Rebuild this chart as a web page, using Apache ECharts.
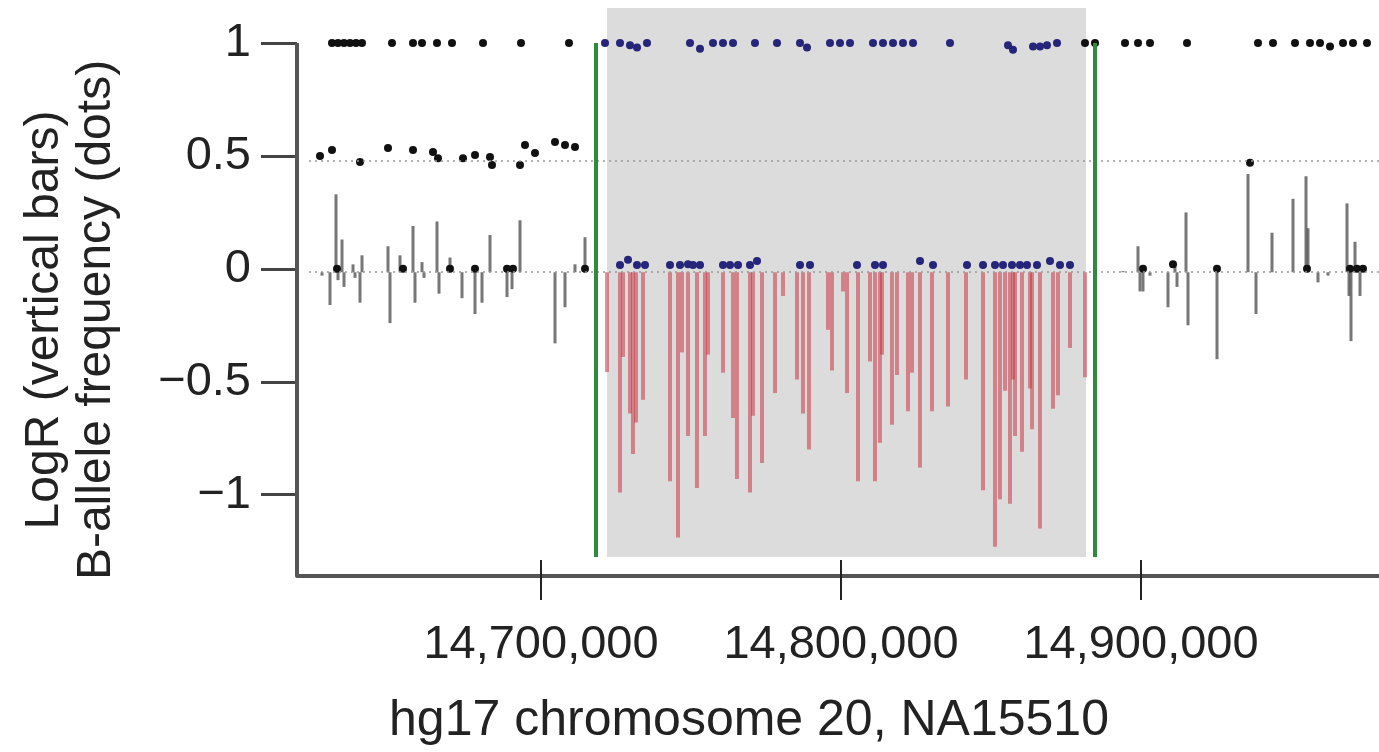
<!DOCTYPE html>
<html>
<head>
<meta charset="utf-8">
<script src="https://cdn.jsdelivr.net/npm/echarts@6/dist/echarts.min.js"></script>
<style>html,body{margin:0;padding:0;background:#fff;}#c{width:1379px;height:752px;}</style>
</head>
<body>
<div id="c"></div>
<script>
// ---- data (positions in bp, hg17 chr20) ----
const xTicks = [14700000, 14800000, 14900000];
const yTicks = [1, 0.5, 0, -0.5, -1];
const regionStart = 14722000, regionEnd = 14881667;      // shaded deletion
const breakLeft = 14718333, breakRight = 14884667;        // green boundaries
const hetLine = 0.48, baseLine = -0.015;

// LogR outside deletion (grey bars)
const greyBarPos = [14627000,14629667,14631667,14632333,14633667,14634333,14637333,14638000,14639667,14640333,
  14649000,14649667,14653000,14657333,14658000,14660333,14661000,14665333,14666000,14669667,14673667,14678000,
  14680333,14683000,14688667,14690333,14693000,14704667,14708000,14711333,14714667,
  14894000,14899000,14899667,14900667,14903000,14909000,14911333,14912000,14915000,14915667,14925333,14935667,
  14938333,14943667,14950667,14955000,14955667,14959000,14962333,14968667,14969333,14970000,14971333,14973000];
const greyBarLogR = [-0.03,-0.16,0.33,-0.05,0.13,-0.08,0.02,-0.04,-0.15,0.06,
  0.10,-0.24,0.06,0.19,-0.15,0.03,-0.04,0.21,-0.11,0.05,-0.13,-0.20,
  -0.15,0.15,-0.125,-0.09,0.215,-0.33,-0.17,0.02,0.14,
  -0.01,0.10,-0.10,-0.10,-0.03,-0.17,0.02,-0.08,0.25,-0.25,-0.40,0.42,
  -0.20,0.16,0.31,0.41,0.18,-0.06,-0.03,0.29,-0.12,-0.32,0.12,-0.12];

// LogR inside deletion (red bars)
const redBarPos = [14722000,14726333,14727333,14729667,14730667,14731667,14734000,14743000,14745667,14747000,
  14749000,14752000,14754667,14755667,14760667,14764000,14765333,14769667,14770667,14773667,14778000,14780667,
  14785333,14787333,14789333,14795667,14797000,14800667,14802000,14805667,14809667,14811333,14813000,14813667,
  14817000,14818667,14822333,14823667,14826333,14830333,14835667,14841667,14847333,14851333,14853000,14854667,
  14856333,14857333,14858000,14860333,14863000,14863667,14866333,14870667,14872333,14876333,14881333];
const redBarLogR = [-0.457,-0.99,-0.39,-0.64,-0.82,-0.68,-0.58,-0.94,-1.19,-0.37,
  -0.74,-0.97,-0.74,-0.38,-0.46,-0.66,-0.93,-0.99,-0.65,-0.86,-0.55,-0.12,
  -0.49,-0.64,-0.80,-0.27,-0.45,-0.10,-0.55,-0.94,-0.41,-0.94,-0.77,-0.38,
  -0.69,-0.47,-0.63,-0.46,-0.88,-0.63,-0.61,-0.49,-0.98,-1.23,-1.02,-0.54,
  -1.04,-0.49,-0.74,-0.81,-0.53,-0.71,-1.15,-0.62,-0.56,-0.35,-0.48];

// B-allele frequency outside deletion (black dots)
const bafOutPos = [14630333,14632333,14634333,14636333,14638333,14640333,14650333,14657333,14660333,14665333,14670333,
  14680667,14693333,14709333,14881333,14884667,14894667,14899000,14903000,14915333,14939000,14944000,14951333,
  14956333,14959667,14963000,14967333,14970667,14975333,
  14626333,14630333,14639667,14649000,14657333,14664000,14665667,14674000,14678000,14683000,14683667,14693000,
  14694667,14698000,14704667,14708000,14711333,14936333,
  14632000,14654000,14669667,14678000,14688667,14690667,14714667,14900667,14910667,14925333,14955333,14969667,
  14972000,14974000];
const bafOutVal = [1,1,1,1,1,1,1,1,1,1,1,
  1,1,1,1,1,1,1,1,1,1,1,1,
  1,1,0.985,1,1,1,
  0.50,0.526,0.473,0.535,0.526,0.517,0.49,0.49,0.504,0.495,0.46,0.46,
  0.548,0.513,0.562,0.548,0.539,0.47,
  0,0,0,0,0,0,0,0,0.02,0,0,0,
  0,0];

// B-allele frequency inside deletion (blue dots)
const bafInPos = [14721333,14726333,14729667,14732000,14735333,14749667,14753000,14757333,14760667,14764000,14771333,
  14778667,14786333,14788667,14796333,14799667,14803000,14810667,14814000,14817333,14820667,14824000,14836333,
  14855667,14857333,14864000,14866333,14868667,14872000,
  14726333,14729000,14732000,14734667,14743000,14746333,14749000,14750667,14753000,14760667,14763000,14765667,
  14769667,14772000,14786333,14789667,14805333,14811333,14814000,14826333,14830667,14842000,14847333,14851333,
  14854000,14857000,14859667,14862000,14865333,14869667,14873000,14876333];
const bafInVal = [1,1,0.99,0.98,1,1,0.975,1,1,1,1,
  1,1,0.98,1,1,1,1,1,1,1,1,1,
  0.99,0.97,0.985,0.985,0.99,1,
  0.017,0.04,0.017,0.017,0.017,0.017,0.02,0.017,0.017,0.017,0.017,0.017,
  0.017,0.035,0.017,0.017,0.017,0.017,0.017,0.035,0.017,0.017,0.017,0.017,
  0.017,0.017,0.017,0.017,0.017,0.035,0.017,0.017];

const XMIN = 14618667, XMAX = 14979333, YMIN = -1.36, YMAX = 1.155, REGION_BOTTOM = -1.276;

const zip = (a, b) => a.map((v, i) => [v, b[i]]);
const FONT = '"Liberation Sans", Arial, sans-serif';

function barRenderer(color, w) {
  return function (params, api) {
    const x = api.value(0), v = api.value(1);
    const p0 = api.coord([x, baseLine]);
    const p1 = api.coord([x, v]);
    return { type: 'line', shape: { x1: p0[0], y1: p0[1], x2: p1[0], y2: p1[1] },
      style: { stroke: color, lineWidth: w } };
  };
}

const chart = echarts.init(document.getElementById('c'), null, { renderer: 'canvas' });
const fmtNum = v => String(v).replace(/\B(?=(\d{3})+(?!\d))/g, ',');
chart.setOption({
  animation: false,
  backgroundColor: '#fff',
  grid: { left: 297, right: 0, top: 8, bottom: 176, containLabel: false },
  xAxis: [
    { type: 'value', min: XMIN, max: XMAX, splitLine: { show: false },
      axisLine: { show: true, onZero: false, lineStyle: { color: '#555', width: 4 } },
      axisTick: { show: true, customValues: xTicks, length: 24, lineStyle: { color: '#222', width: 2 } },
      axisLabel: { customValues: xTicks, formatter: fmtNum, fontFamily: FONT, fontSize: 47, color: '#222', margin: 46 } },
    { type: 'value', min: XMIN, max: XMAX, position: 'bottom', splitLine: { show: false },
      axisLine: { show: false, onZero: false },
      axisTick: { show: true, inside: true, customValues: xTicks, length: 16, lineStyle: { color: '#222', width: 2 } },
      axisLabel: { show: false } }
  ],
  yAxis: {
    type: 'value', min: YMIN, max: YMAX, splitLine: { show: false },
    axisLine: { show: false, onZero: false },
    axisTick: { show: true, customValues: yTicks, length: 36, lineStyle: { color: '#444', width: 3 } },
    axisLabel: { customValues: yTicks, formatter: v => String(v).replace('-', '\u2212'),
      fontFamily: FONT, fontSize: 47, color: '#222', margin: 46 }
  },
  graphic: [
    { type: 'text', x: 749, y: 721, style: { text: 'hg17 chromosome 20, NA15510', font: '50px ' + FONT,
      fill: '#222', textAlign: 'center', textVerticalAlign: 'middle' } },
    { type: 'text', x: 71, y: 320, rotation: Math.PI / 2, style: { text: 'LogR (vertical bars)\nB-allele frequency (dots)',
      font: '48px ' + FONT, fill: '#222', textAlign: 'center', textVerticalAlign: 'middle', lineHeight: 52 } }
  ],
  series: [
    { type: 'line', data: [], z: 0, clip: false, silent: true,
      markArea: { silent: true, itemStyle: { color: '#dcdcdc' },
        data: [[{ coord: [regionStart, YMAX] }, { coord: [regionEnd, REGION_BOTTOM] }]] },
      markLine: { silent: true, symbol: 'none', label: { show: false },
        lineStyle: { color: '#999', type: [2, 4], width: 1.5 },
        data: [
          [{ coord: [XMIN + 4000, hetLine] }, { coord: [XMAX, hetLine] }],
          [{ coord: [XMIN + 4000, baseLine] }, { coord: [XMAX, baseLine] }]
        ] } },
    { type: 'custom', name: 'LogR outside', renderItem: barRenderer('rgba(85,85,85,0.8)', 3), data: zip(greyBarPos, greyBarLogR), z: 2 },
    { type: 'custom', name: 'LogR deleted', renderItem: barRenderer('rgba(200,55,65,0.55)', 4), data: zip(redBarPos, redBarLogR), z: 2 },
    { type: 'scatter', name: 'BAF outside', data: zip(bafOutPos, bafOutVal), symbol: 'circle', symbolSize: 8,
      itemStyle: { color: '#111', opacity: 1 }, z: 3 },
    { type: 'scatter', name: 'BAF deleted', data: zip(bafInPos, bafInVal), symbol: 'circle', symbolSize: 8,
      itemStyle: { color: '#25257a', opacity: 1 }, z: 3 },
    { type: 'line', data: [], z: 4, clip: false, silent: true,
      markLine: { silent: true, symbol: 'none', label: { show: false },
        data: [
          [{ coord: [breakLeft, 1], lineStyle: { color: '#2f8a3c', width: 4, type: 'solid' } }, { coord: [breakLeft, REGION_BOTTOM] }],
          [{ coord: [breakRight, 1], lineStyle: { color: '#2f8a3c', width: 4, type: 'solid' } }, { coord: [breakRight, REGION_BOTTOM] }],
          [{ coord: [XMIN, 1], lineStyle: { color: '#555', width: 4, type: 'solid' } }, { coord: [XMIN, YMIN] }]
        ] } }
  ]
});
</script>
</body>
</html>
